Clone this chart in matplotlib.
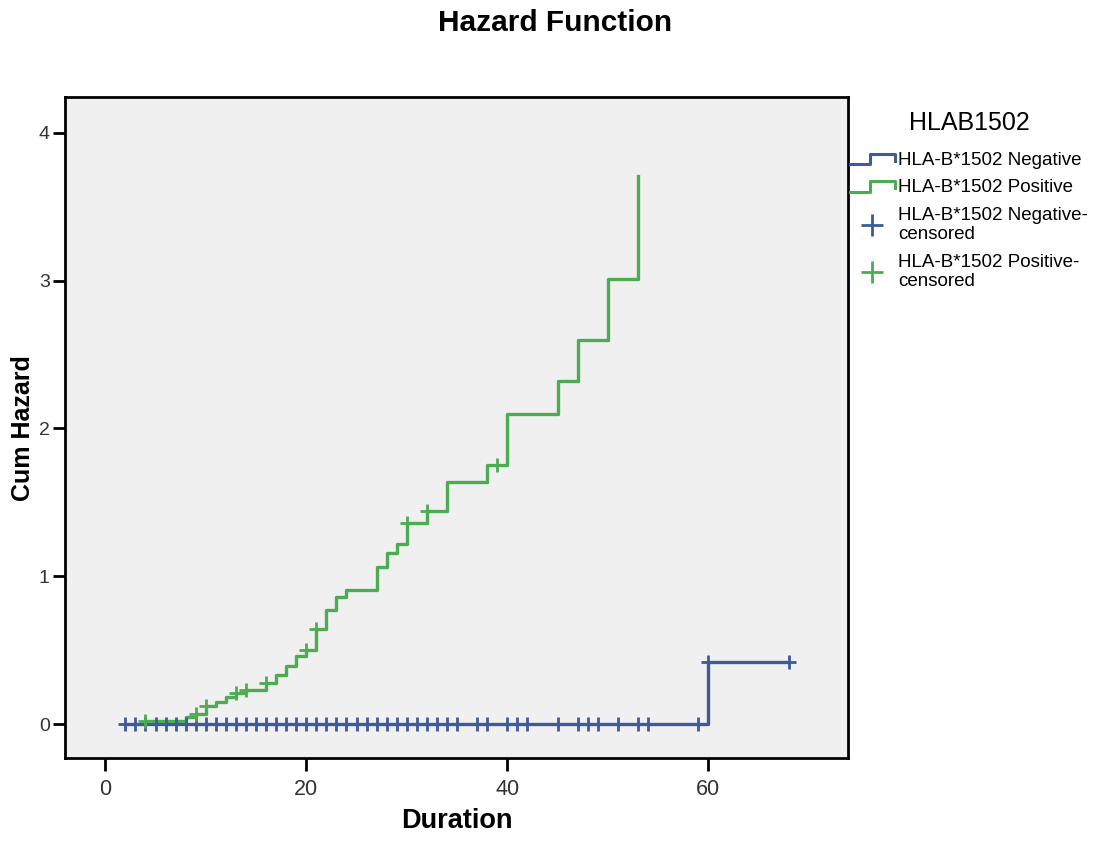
import numpy as np
import matplotlib
matplotlib.use("Agg")
import matplotlib.pyplot as plt
from matplotlib.lines import Line2D
from matplotlib.legend_handler import HandlerBase

plt.rcParams['font.family'] = ['Liberation Sans', 'DejaVu Sans']

# Cumulative hazard step data
neg_times = [2, 60, 68]
neg_hazard = [0.0, 0.42, 0.42]
neg_censored = list(range(2, 36)) + [37, 38, 40, 41, 42, 45, 47, 48, 49, 51, 53, 54, 59, 60, 68]

pos_times = [4, 8, 9, 10, 11, 12, 13, 14, 16, 17, 18, 19, 20, 21, 22, 23, 24,
             27, 28, 29, 30, 32, 34, 38, 40, 45, 47, 50, 53]
pos_hazard = [0.02, 0.05, 0.07, 0.12, 0.15, 0.18, 0.21, 0.23, 0.28, 0.33, 0.39, 0.46, 0.50, 0.64,
              0.77, 0.86, 0.91, 1.06, 1.16, 1.22, 1.36, 1.44, 1.64, 1.75, 2.10, 2.32, 2.60, 3.01, 3.71]
pos_censored = [4, 9, 10, 13, 14, 16, 20, 21, 30, 32, 39]

blue = '#3f5a98'
green = '#4dab52'


def step_value(times, vals, t):
    i = np.searchsorted(times, t, side='right') - 1
    return np.asarray(vals)[np.clip(i, 0, None)]


class StepHandler(HandlerBase):
    def create_artists(self, legend, orig_handle, xdescent, ydescent,
                       width, height, fontsize, trans):
        x0 = -xdescent
        y0 = -ydescent
        xs = [x0, x0 + width * 0.45, x0 + width * 0.45, x0 + width, x0 + width]
        ys = [y0 + height * 0.05, y0 + height * 0.05, y0 + height * 0.85,
              y0 + height * 0.85, y0 + height * 0.3]
        ln = Line2D(xs, ys, color=orig_handle.get_color(), lw=2.2, transform=trans)
        return [ln]


fig = plt.figure(figsize=(11.1, 8.46), dpi=100)
ax = fig.add_axes([0.0586, 0.104, 0.7054, 0.781])
ax.set_facecolor('#f0f0f0')

l_neg, = ax.step(neg_times, neg_hazard, where='post', color=blue, lw=2.4)
l_pos, = ax.step(pos_times, pos_hazard, where='post', color=green, lw=2.4)

nc = np.array(neg_censored, dtype=float)
ny = step_value(neg_times, neg_hazard, nc)
m_neg, = ax.plot(nc, ny, '+', color=blue, ms=10, mew=2, ls='none')
pc = np.array(pos_censored, dtype=float)
py = step_value(pos_times, pos_hazard, pc)
m_pos, = ax.plot(pc, py, '+', color=green, ms=10, mew=2, ls='none')

ax.set_xlim(-4, 73.9)
ax.set_ylim(-0.23, 4.24)
ax.set_xticks([0, 20, 40, 60])
ax.set_yticks([0, 1, 2, 3, 4])
for s in ax.spines.values():
    s.set_linewidth(2)
ax.tick_params(axis='both', direction='out', length=9, width=2, colors='black',
               labelcolor='#333333')
ax.tick_params(axis='x', labelsize=15.5, pad=6)
ax.tick_params(axis='y', labelsize=14, pad=2)

ax.set_xlabel('Duration', fontsize=19.5, fontweight='bold', labelpad=6)
ax.set_ylabel('Cum Hazard', fontsize=18, fontweight='bold')
ax.yaxis.set_label_coords(-0.038, 0.50)
fig.text(0.5, 0.973, 'Hazard Function', fontsize=21.5, fontweight='bold',
         ha='center', va='center')

leg = ax.legend([l_neg, l_pos, m_neg, m_pos],
                ['HLA-B*1502 Negative', 'HLA-B*1502 Positive',
                 'HLA-B*1502 Negative-\ncensored', 'HLA-B*1502 Positive-\ncensored'],
                handler_map={l_neg: StepHandler(), l_pos: StepHandler()},
                title='HLAB1502', title_fontsize=18, fontsize=13.5,
                loc='upper left', bbox_to_anchor=(0.762, 0.873),
                bbox_transform=fig.transFigure, frameon=False, markerscale=1.6,
                handlelength=2.4, handletextpad=0.2, labelspacing=0.55,
                borderaxespad=0, borderpad=0.2)
leg._legend_box.align = 'center'
leg._legend_box.sep = 12
for t in leg.get_texts():
    t.set_linespacing(1.2)

fig.savefig('out.png', dpi=100, facecolor='white')
